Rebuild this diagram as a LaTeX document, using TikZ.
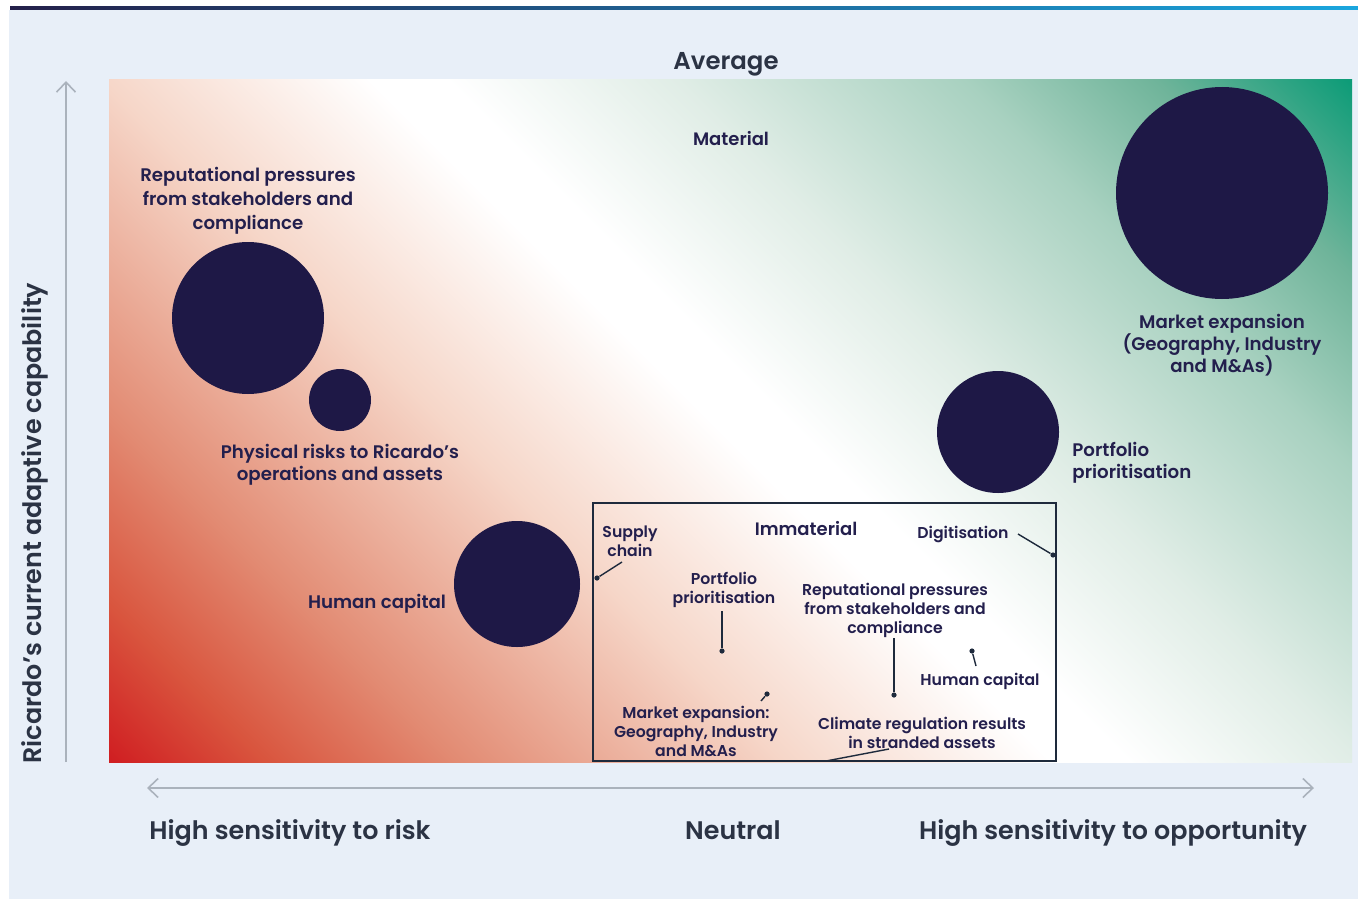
\documentclass[tikz,border=0pt]{standalone}
\usepackage{fontspec}
\setmainfont{Poppins}[BoldFont={Poppins SemiBold}]
\usetikzlibrary{arrows.meta}
\definecolor{navy}{HTML}{1E1846}
\definecolor{txtnavy}{HTML}{231F4D}
\definecolor{panel}{HTML}{E8EFF8}
\definecolor{axisgrey}{HTML}{AAB2BC}
\definecolor{axistxt}{HTML}{2B3344}
\definecolor{boxline}{HTML}{1E2A3C}
\definecolor{topA}{HTML}{24204A}
\definecolor{topB}{HTML}{0C5A96}
\definecolor{topC}{HTML}{1AA6DE}
\definecolor{gA}{HTML}{D01F22}
\definecolor{gB}{HTML}{D9553E}
\definecolor{gC}{HTML}{E28B73}
\definecolor{gD}{HTML}{F6D6C8}
\definecolor{gE}{HTML}{E0EDE6}
\definecolor{gF}{HTML}{A8D1C0}
\definecolor{gH}{HTML}{6FB49A}
\definecolor{gG}{HTML}{0E9C78}
\pgfdeclarehorizontalshading{bgshade}{100bp}{color(0bp)=(gA); color(25bp)=(gA); color(29bp)=(gB); color(34bp)=(gC); color(42.5bp)=(gD); color(49.5bp)=(white); color(51.5bp)=(white); color(57.5bp)=(gE); color(65bp)=(gF); color(70bp)=(gH); color(75bp)=(gG); color(100bp)=(gG)}
\tikzset{
  bubble/.style={circle, fill=navy, inner sep=0pt},
  dotmark/.style={circle, fill=boxline, inner sep=0pt, minimum size=2.6pt},
  lead/.style={draw=boxline, line width=0.7pt},
  biglbl/.style={font=\bfseries\fontsize{9.1}{11}\selectfont, text=txtnavy, align=center, inner sep=0pt},
  smalllbl/.style={font=\bfseries\fontsize{7.85}{9.5}\selectfont, text=txtnavy, align=center, inner sep=0pt},
  headlbl/.style={font=\bfseries\fontsize{9}{11}\selectfont, text=txtnavy, inner sep=0pt},
  axislbl/.style={font=\bfseries\fontsize{12.7}{15}\selectfont, text=axistxt, inner sep=0pt},
  bottomlbl/.style={axislbl, text height=9.2pt, text depth=2.9pt},
  axisline/.style={draw=axisgrey, line width=0.8pt},
}
\begin{document}
\begin{tikzpicture}[x=0.5pt,y=-0.5pt]
\useasboundingbox (0,0) rectangle (1358,899);
% panel
\fill[panel] (9,10) rectangle (1358,899);
\shade[left color=topA, middle color=topB, right color=topC] (10,6.5) rectangle (1358,9.5);
% gradient field
\begin{scope}
\clip (109,80) rectangle (1352,762);
\shade[shading=bgshade, shading angle=45] (49.5,-260) rectangle (1411.5,1102);
\end{scope}
% axes
\coordinate (ybot) at (66,762);
\coordinate (ytop) at (66,81);
\draw[axisline, -{Straight Barb[length=5pt,width=9.5pt]}] (ybot) -- (ytop);
\coordinate (xl) at (147,788);
\coordinate (xr) at (1314,788);
\draw[axisline, {Straight Barb[length=5pt,width=9.5pt]}-{Straight Barb[length=5pt,width=9.5pt]}] (xl) -- (xr);
% axis texts
\node[axislbl, font=\bfseries\fontsize{12.2}{15}\selectfont] (avg) at (726,64) {Average};
\node[axislbl, rotate=90] (ylab) at (35,523) {Ricardo’s current adaptive capability};
\node[bottomlbl] (xrisk) at (290,833) {High sensitivity to risk};
\node[bottomlbl] (xneu) at (733,833) {Neutral};
\node[bottomlbl] (xopp) at (1113,833) {High sensitivity to opportunity};
\node[headlbl] (mat) at (731,139) {Material};
% bubbles
\node[bubble, minimum size=76pt] (b1) at (248,318) {};
\node[bubble, minimum size=31pt] (b2) at (340,400) {};
\node[bubble, minimum size=63pt] (b3) at (517,584) {};
\node[bubble, minimum size=61pt] (b4) at (998,432) {};
\node[bubble, minimum size=106pt] (b5) at (1222,193) {};
% bubble labels
\node[biglbl, font=\bfseries\fontsize{9.1}{12}\selectfont] (l1) at (248,201) {Reputational pressures\\from stakeholders and\\compliance};
\node[biglbl] (l2) at (340,465) {Physical risks to Ricardo’s\\operations and assets};
\node[biglbl] (l3) at (377,604) {Human capital};
\node[biglbl, align=left, anchor=west] (l4) at (1072,463) {Portfolio\\prioritisation};
\node[biglbl] (l5) at (1222,345) {Market expansion\\(Geography, Industry\\and M\&As)};
% immaterial box
\node[draw=boxline, line width=0.7pt, inner sep=0pt, minimum width=231.5pt, minimum height=129pt] (imm) at (824.5,632) {};
\node[headlbl] (immh) at (806,529) {Immaterial};
% inner labels
\node[smalllbl] (s1) at (630,541) {Supply\\chain};
\node[smalllbl] (s2) at (963,534) {Digitisation};
\node[smalllbl] (s3) at (724,590) {Portfolio\\prioritisation};
\node[smalllbl] (s4) at (895,610) {Reputational pressures\\from stakeholders and\\compliance};
\node[smalllbl] (s5) at (980,681) {Human capital};
\node[smalllbl] (s6) at (696,731) {Market expansion:\\Geography, Industry\\and M\&As};
\node[smalllbl] (s7) at (922,733) {Climate regulation results\\in stranded assets};
% dots
\node[dotmark] (d1) at (597,578) {};
\node[dotmark] (d2) at (1053,555) {};
\node[dotmark] (d3) at (722,651) {};
\node[dotmark] (d4) at (894,695) {};
\node[dotmark] (d5) at (972,651) {};
\node[dotmark] (d6) at (767,694) {};
% leader starts
\coordinate (c1) at (622,562);
\coordinate (c2) at (1018,534);
\coordinate (c3) at (722,611);
\coordinate (c4) at (894,638);
\coordinate (c5) at (976,666);
\coordinate (c6) at (761,701);
\coordinate (c7a) at (889,749);
\coordinate (c7b) at (826,761);
\draw[lead] (c1) -- (d1);
\draw[lead] (c2) -- (d2);
\draw[lead] (c3) -- (d3);
\draw[lead] (c4) -- (d4);
\draw[lead] (c5) -- (d5);
\draw[lead] (c6) -- (d6);
\draw[lead] (c7a) -- (c7b);
\end{tikzpicture}
\end{document}
